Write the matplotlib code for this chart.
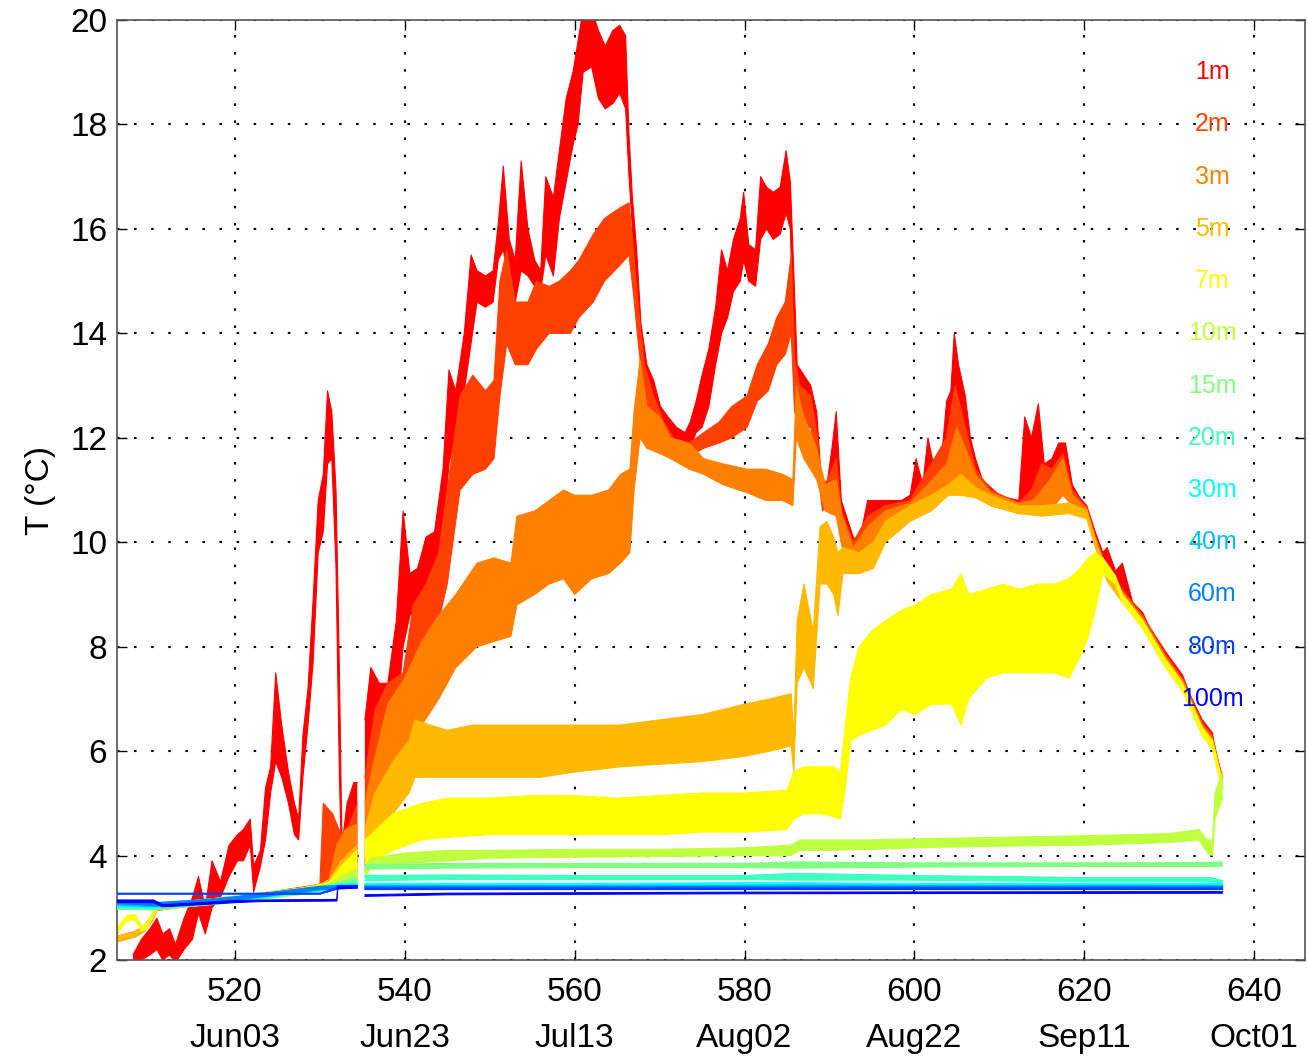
import numpy as np
import matplotlib
matplotlib.use("Agg")
import matplotlib.pyplot as plt

plt.rcParams['font.family'] = ['Liberation Sans', 'DejaVu Sans']

nan = np.nan

# Mooring temperature records: for each depth the daily low / high envelope (deg C)
depths = ["1m", "2m", "3m", "5m", "7m", "10m", "15m", "20m", "30m", "40m", "60m", "80m", "100m"]
colors = ["#ff0000", "#ff4000", "#ff8000", "#ffb900", "#ffff00", "#c0ff40", "#80ff80",
          "#40ffc0", "#00ffff", "#00bfff", "#0080ff", "#0040ff", "#0000ff"]

day_1m = [508.0, 509.0, 510.0, 510.8, 511.5, 512.3, 513.0, 514.0, 515.0, 515.7, 516.5, 517.3,
          518.3, 519.3, 520.3, 521.0, 521.8, 522.2, 523.0, 523.6, 524.2, 524.8, 525.5, 526.3,
          527.0, 527.5, 528.0, 528.6, 529.2, 529.8, 530.4, 530.9, 531.4, 531.9, 532.3, 532.6,
          533.2, 534.0, 534.4, nan,
          535.3, 536.0, 537.0, 538.0, 539.0, 539.8, 540.6, 541.5, 542.5, 543.5, 544.5, 545.2,
          546.0, 547.0, 547.8, 548.5, 549.5, 550.4, 551.0, 551.6, 552.3, 553.0, 553.7, 554.5,
          555.3, 556.0, 556.6, 557.5, 558.2, 559.0, 559.8, 560.4, 561.0, 562.0, 562.8, 563.6,
          564.5, 565.3, 566.0, 566.4, 566.8, 567.3, 567.8, 568.5, 569.3, 570.1, 571.0, 572.0,
          573.0, 573.6, 574.3, 575.0, 575.8, 576.6, 577.3, 578.0, 578.7, 579.5, 579.9, 580.5,
          581.3, 581.9, 582.6, 583.4, 584.2, 584.9, 585.4, 585.8, 586.2, 587.0, 587.8, 588.5,
          589.0, 589.7, 590.3, 590.8, 591.4, 592.0, 592.8, 593.5, 594.5, 595.5, 596.6, 597.5,
          598.5, 599.5, 600.2, 601.0, 601.6, 602.5, 603.2, 603.8, 604.3, 604.7, 605.2, 606.0,
          606.6, 607.2, 608.0, 609.0, 610.0, 611.0, 612.3, 613.0, 613.8, 614.6, 615.3, 616.2,
          617.0, 617.8, 618.6, 619.5, 620.3, 621.3, 622.2, 622.7, 623.7, 624.5, 625.7, 626.9,
          627.6, 629.6, 631.6, 632.4, 633.9, 635.1, 635.5, 636.3]
lo_1m = [1.9, 2.0, 2.1, 2.2, 2.0, 2.1, 1.95, 2.2, 2.4, 2.9, 2.5, 3.0,
         3.2, 3.6, 3.9, 3.9, 4.2, 3.3, 3.8, 4.3, 5.2, 5.8, 5.5, 5.0,
         4.4, 4.3, 5.5, 6.5, 7.7, 9.8, 10.2, 11.5, 11.6, 9.5, 5.5, 3.6,
         3.5, 3.8, 4.0, nan,
         3.8, 4.6, 5.0, 5.8, 6.5, 8.0, 8.6, 8.7, 9.2, 9.5, 10.2, 11.5,
         12.1, 12.9, 13.8, 14.6, 14.5, 14.6, 15.4, 15.6, 15.0, 14.6, 15.2, 15.1,
         14.9, 14.8, 15.5, 15.1, 16.2, 16.9, 17.6, 18.0, 19.0, 19.1, 18.5, 18.3,
         18.4, 18.6, 18.3, 17.0, 16.0, 14.6, 13.5, 12.9, 12.5, 12.3, 12.0, 11.9,
         11.8, 11.8, 12.1, 12.2, 12.6, 13.4, 14.0, 14.3, 14.8, 15.0, 15.4, 15.0,
         14.9, 15.8, 16.0, 15.8, 15.9, 16.3, 16.0, 13.8, 12.4, 12.5, 12.4, 11.8,
         10.9, 10.7, 11.1, 11.3, 10.3, 9.9, 9.5, 9.6, 10.0, 10.1, 10.4, 10.5,
         10.55, 10.6, 10.9, 10.7, 11.0, 10.8, 11.0, 11.6, 11.9, 12.5, 12.5, 12.0,
         11.4, 11.1, 10.9, 10.8, 10.7, 10.65, 10.6, 10.8, 11.0, 11.2, 10.9, 11.0,
         11.45, 11.4, 10.8, 10.65, 10.55, 10.0, 9.6, 9.4, 9.3, 9.0, 8.7, 8.5,
         8.25, 7.75, 7.3, 6.95, 6.45, 6.2, 5.8, 5.35]
hi_1m = [2.1, 2.4, 2.6, 2.8, 2.5, 2.6, 2.3, 2.8, 3.2, 3.6, 3.0, 3.9,
         3.5, 4.2, 4.4, 4.5, 4.7, 3.8, 4.1, 5.3, 5.7, 7.5, 6.5, 5.6,
         5.0, 4.7, 6.3, 7.2, 8.9, 10.8, 11.3, 12.9, 12.5, 11.0, 7.5, 4.2,
         5.0, 5.4, 5.4, nan,
         6.6, 7.6, 7.3, 7.3, 8.5, 10.6, 9.4, 9.5, 10.1, 10.2, 11.4, 13.3,
         12.9, 14.0, 15.5, 15.2, 15.1, 15.2, 16.1, 17.2, 15.8, 15.4, 17.3, 16.0,
         15.4, 15.2, 17.0, 16.6, 17.5, 18.5, 19.0, 19.6, 20.2, 20.2, 19.8, 19.5,
         19.8, 19.9, 19.7, 17.8, 16.6, 15.6, 14.2, 13.4, 13.1, 12.6, 12.4, 12.2,
         12.1, 12.3, 12.7, 13.2, 13.7, 14.5, 15.6, 15.2, 15.8, 16.2, 16.7, 15.7,
         15.6, 17.0, 16.8, 16.7, 16.8, 17.5, 16.9, 15.2, 13.4, 13.2, 13.0, 12.5,
         11.3, 11.1, 11.8, 12.5, 10.8, 10.5, 10.1, 10.0, 10.8, 10.8, 10.8, 10.8,
         10.8, 10.9, 11.6, 11.1, 12.0, 11.3, 11.6, 12.7, 12.9, 14.0, 13.4, 12.8,
         12.0, 11.6, 11.2, 11.05, 10.9, 10.85, 10.8, 12.4, 12.0, 12.65, 11.5, 11.6,
         11.9, 11.9, 11.1, 10.85, 10.7, 10.2, 9.8, 9.9, 9.45, 9.6, 8.85, 8.65,
         8.4, 7.9, 7.45, 7.1, 6.6, 6.35, 5.95, 5.5]

day_2m = [506.1, 507.2, 508.3, 509.3, 510.2, 510.8, 513.0, 516.0, 520.0, 524.0, 528.0, 530.0,
          530.4, 531.5, 532.5, 533.5, 534.4, nan,
          535.3, 536.5, 538.0, 539.8, 541.0, 542.5, 544.0, 545.0, 546.5, 548.0, 549.5, 550.5,
          551.2, 552.0, 553.0, 554.5, 555.5, 557.0, 558.2, 559.5, 560.5, 562.2, 563.5, 565.3,
          566.4, 566.9, 567.5, 568.2, 569.3, 570.5, 572.0, 573.5, 575.2, 577.0, 578.5, 580.3,
          581.5, 582.8, 583.8, 584.8, 585.5, 585.9, 586.5, 587.8, 588.5, 589.2, 590.3, 590.8,
          591.4, 592.8, 594.5, 596.6, 599.5, 601.6, 603.8, 604.8, 606.0, 607.2, 609.0, 612.3,
          613.8, 615.0, 616.2, 617.5, 618.6, 620.3, 621.3, 622.7, 624.5, 626.9, 629.6, 631.6,
          633.9, 635.1, 636.3]
lo_2m = [2.35, 2.4, 2.45, 2.55, 2.75, 2.95, 3.0, 3.05, 3.12, 3.2, 3.3, 3.35,
         3.5, 3.6, 3.5, 3.7, 3.9, nan,
         3.9, 4.6, 5.0, 6.0, 6.8, 7.5, 8.5, 9.2, 11.0, 11.3, 11.4, 11.6,
         12.8, 13.8, 13.4, 13.4, 13.7, 14.0, 14.0, 14.0, 14.3, 14.6, 15.0, 15.3,
         15.5, 14.8, 13.8, 12.8, 12.3, 12.0, 11.7, 11.65, 11.8, 11.9, 12.0, 12.2,
         12.7, 12.9, 13.4, 13.6, 14.0, 12.5, 12.2, 12.2, 11.5, 10.6, 10.8, 10.9,
         10.0, 9.5, 9.8, 10.3, 10.55, 10.8, 11.3, 11.6, 11.3, 11.0, 10.75, 10.55,
         10.6, 10.7, 10.8, 11.1, 10.75, 10.5, 9.95, 9.35, 8.95, 8.45, 7.7, 7.25,
         6.4, 6.15, 5.3]
hi_2m = [2.45, 2.5, 2.55, 2.65, 2.85, 3.05, 3.1, 3.15, 3.22, 3.3, 3.4, 3.45,
         5.0, 4.8, 4.4, 4.6, 5.0, nan,
         5.5, 6.8, 7.3, 7.5, 8.8, 9.2, 9.8, 11.0, 12.8, 13.2, 12.9, 13.1,
         15.0, 15.6, 14.6, 14.6, 15.0, 14.9, 15.0, 15.2, 15.4, 15.9, 16.2, 16.4,
         16.5, 15.6, 14.5, 13.4, 12.8, 12.3, 11.9, 11.9, 12.1, 12.3, 12.6, 12.8,
         13.4, 13.8, 14.3, 14.6, 15.5, 13.5, 13.0, 12.8, 12.1, 11.0, 11.4, 11.6,
         10.6, 10.0, 10.5, 10.7, 10.8, 11.4, 12.0, 13.0, 12.2, 11.4, 11.0, 10.75,
         11.0, 11.5, 11.4, 11.7, 11.0, 10.65, 10.1, 9.5, 9.1, 8.6, 7.85, 7.4,
         6.55, 6.3, 5.45]

day_3m = [506.1, 507.2, 508.3, 509.3, 510.2, 510.8, 513.0, 516.0, 520.0, 524.0, 528.0, 531.0,
          532.0, 533.0, 534.4, nan,
          535.3, 536.5, 538.0, 540.0, 542.0, 544.0, 546.0, 548.5, 550.5, 552.5, 553.2, 555.3,
          557.0, 558.7, 560.0, 562.0, 564.0, 565.4, 566.5, 567.0, 567.7, 568.5, 570.0, 571.3,
          573.5, 575.2, 577.5, 580.3, 582.5, 584.5, 585.7, 586.1, 587.0, 588.5, 589.5, 590.8,
          591.5, 592.8, 594.5, 596.6, 599.5, 601.6, 603.8, 605.0, 606.0, 607.2, 609.0, 612.3,
          614.0, 616.0, 617.5, 618.6, 620.3, 621.3, 622.7, 624.5, 626.9, 629.6, 631.6, 633.9,
          635.1, 636.3]
lo_3m = [2.35, 2.4, 2.45, 2.55, 2.75, 2.95, 3.0, 3.05, 3.12, 3.2, 3.28, 3.35,
         3.4, 3.5, 3.6, nan,
         3.7, 4.3, 5.0, 5.8, 6.5, 7.0, 7.6, 8.0, 8.1, 8.2, 8.8, 9.0,
         9.2, 9.3, 9.0, 9.3, 9.4, 9.6, 9.8, 11.0, 12.0, 11.8, 11.7, 11.6,
         11.4, 11.3, 11.1, 10.95, 10.8, 10.8, 10.7, 12.0, 11.6, 11.2, 10.6, 10.5,
         9.9, 9.4, 9.6, 10.2, 10.5, 10.7, 10.9, 11.0, 11.1, 11.0, 10.7, 10.55,
         10.55, 10.6, 10.9, 10.7, 10.5, 9.95, 9.3, 8.9, 8.4, 7.65, 7.2, 6.35,
         6.1, 5.3]
hi_3m = [2.45, 2.5, 2.55, 2.65, 2.85, 3.05, 3.1, 3.15, 3.22, 3.3, 3.38, 3.5,
         4.2, 4.5, 4.6, nan,
         5.0, 5.9, 6.9, 7.4, 8.1, 8.6, 9.0, 9.6, 9.7, 9.6, 10.5, 10.6,
         10.8, 11.0, 10.9, 10.9, 11.0, 11.3, 11.4, 12.5, 13.5, 12.6, 12.4, 12.0,
         11.9, 11.6, 11.5, 11.4, 11.4, 11.3, 11.2, 13.0, 12.4, 11.8, 11.1, 11.2,
         10.5, 9.9, 10.3, 10.6, 10.75, 11.1, 11.5, 12.2, 11.8, 11.3, 10.95, 10.75,
         10.8, 11.2, 11.6, 10.9, 10.65, 10.1, 9.45, 9.05, 8.55, 7.8, 7.35, 6.5,
         6.25, 5.45]

day_5m = [506.1, 507.2, 508.3, 509.3, 510.2, 510.8, 513.0, 516.0, 520.0, 524.0, 528.0, 531.0,
          532.5, 534.4, nan,
          535.3, 536.5, 538.6, 540.5, 541.2, 543.0, 545.0, 548.0, 552.0, 556.0, 560.0, 565.4,
          570.0, 575.0, 580.0, 583.0, 585.5, 585.8, 586.2, 587.0, 588.1, 588.9, 589.7, 590.5,
          591.0, 591.6, 593.5, 595.2, 596.6, 599.5, 602.0, 604.0, 605.5, 607.2, 609.0, 612.3,
          615.0, 618.2, 620.3, 621.3, 622.7, 624.5, 626.9, 629.6, 631.6, 633.9, 635.1, 636.3]
lo_5m = [2.35, 2.4, 2.45, 2.55, 2.75, 2.95, 3.0, 3.05, 3.12, 3.2, 3.28, 3.35,
         3.4, 3.5, nan,
         3.6, 4.2, 4.8, 5.2, 5.5, 5.5, 5.5, 5.5, 5.5, 5.5, 5.6, 5.7,
         5.75, 5.8, 5.9, 6.0, 6.1, 5.6, 7.3, 7.6, 7.2, 9.2, 9.2, 9.0,
         8.6, 9.4, 9.4, 9.5, 10.0, 10.4, 10.6, 10.9, 10.9, 10.85, 10.7, 10.55,
         10.5, 10.55, 10.45, 9.9, 9.25, 8.85, 8.35, 7.6, 7.15, 6.3, 6.05, 5.25]
hi_5m = [2.45, 2.5, 2.55, 2.65, 2.85, 3.05, 3.1, 3.15, 3.22, 3.3, 3.38, 3.5,
         3.9, 4.2, nan,
         4.5, 5.2, 5.8, 6.2, 6.6, 6.5, 6.4, 6.5, 6.5, 6.5, 6.5, 6.5,
         6.6, 6.7, 6.9, 7.0, 7.1, 6.3, 8.5, 9.2, 8.3, 10.3, 10.4, 10.1,
         9.8, 9.9, 9.8, 10.0, 10.4, 10.7, 10.9, 11.1, 11.3, 11.05, 10.9, 10.7,
         10.7, 10.75, 10.6, 10.05, 9.4, 9.0, 8.5, 7.75, 7.3, 6.45, 6.2, 5.4]

day_7m = [506.1, 506.5, 507.3, 508.2, 508.7, 509.0, 509.6, 510.4, 510.8, 513.0, 516.0, 520.0,
          524.0, 528.0, 531.0, 532.5, 534.4, nan,
          535.3, 536.0, 538.6, 542.0, 545.0, 550.0, 555.0, 560.0, 565.0, 570.0, 575.0, 580.0,
          585.0, 585.8, 587.0, 588.9, 590.5, 591.3, 591.8, 592.5, 593.5, 595.0, 596.6, 598.5,
          600.1, 602.0, 604.4, 605.5, 606.4, 608.5, 610.5, 612.3, 614.5, 616.5, 618.2, 619.5,
          620.5, 621.3, 622.2, 623.7, 624.5, 626.9, 629.6, 631.6, 633.9, 635.1, 636.3]
lo_7m = [2.45, 2.6, 2.75, 2.77, 2.65, 2.55, 2.6, 2.85, 2.97, 3.0, 3.05, 3.12,
         3.2, 3.28, 3.35, 3.4, 3.5, nan,
         3.6, 3.9, 4.1, 4.3, 4.35, 4.4, 4.4, 4.4, 4.4, 4.4, 4.45, 4.45,
         4.5, 4.7, 4.8, 4.8, 4.75, 4.7, 5.2, 6.2, 6.3, 6.4, 6.5, 6.8,
         6.7, 6.9, 6.9, 6.5, 7.0, 7.4, 7.5, 7.5, 7.5, 7.5, 7.4, 7.8,
         8.2, 8.7, 9.4, 9.2, 8.85, 8.35, 7.6, 7.15, 6.3, 6.05, 5.25]
hi_7m = [2.6, 2.7, 2.85, 2.87, 2.75, 2.65, 2.7, 2.95, 3.05, 3.1, 3.15, 3.22,
         3.3, 3.38, 3.48, 3.8, 4.1, nan,
         4.3, 4.4, 4.8, 5.0, 5.1, 5.1, 5.15, 5.15, 5.1, 5.15, 5.2, 5.2,
         5.25, 5.6, 5.7, 5.7, 5.7, 5.6, 6.4, 7.4, 8.0, 8.3, 8.5, 8.7,
         8.8, 9.0, 9.1, 9.4, 9.0, 9.1, 9.2, 9.1, 9.2, 9.2, 9.3, 9.5,
         9.7, 9.8, 9.7, 9.35, 9.0, 8.5, 7.75, 7.3, 6.45, 6.2, 5.4]

day_10m = [506.1, 508.0, 510.5, 513.0, 516.0, 520.0, 524.0, 528.0, 531.0, 532.5, 534.4, nan,
           535.3, 536.0, 540.0, 545.0, 550.0, 560.0, 570.0, 580.0, 585.5, 586.5, 590.0, 595.0,
           600.0, 610.0, 620.0, 630.0, 633.5, 634.5, 635.1, 635.4, 636.3]
lo_10m = [3.0, 2.97, 2.97, 3.0, 3.05, 3.12, 3.2, 3.28, 3.35, 3.4, 3.45, nan,
          3.6, 3.75, 3.85, 3.9, 3.95, 3.97, 3.98, 4.0, 4.0, 4.1, 4.1, 4.12,
          4.15, 4.18, 4.2, 4.25, 4.3, 4.05, 4.0, 4.7, 5.1]
hi_10m = [3.1, 3.07, 3.07, 3.1, 3.15, 3.22, 3.3, 3.38, 3.45, 3.6, 3.75, nan,
          3.8, 3.95, 4.05, 4.1, 4.1, 4.12, 4.12, 4.15, 4.2, 4.3, 4.3, 4.3,
          4.32, 4.35, 4.38, 4.42, 4.5, 4.3, 4.3, 5.2, 5.6]

day_deep = [506.1, 510.5, 515.0, 520.0, 525.0, 530.0, 532.5, 534.4, nan,
            535.3, 545.0, 560.0, 580.0, 586.0, 600.0, 620.0, 635.0, 636.3]
lo_15m = [2.97, 2.96, 3.03, 3.1, 3.2, 3.3, 3.38, 3.45, nan,
          3.74, 3.76, 3.77, 3.77, 3.76, 3.78, 3.79, 3.79, 3.8]
hi_15m = [3.05, 3.04, 3.1, 3.18, 3.28, 3.4, 3.5, 3.6, nan,
          3.83, 3.85, 3.85, 3.85, 3.88, 3.86, 3.86, 3.87, 3.88]
lo_20m = [2.99, 2.98, 3.04, 3.12, 3.22, 3.32, 3.38, 3.42, nan,
          3.52, 3.54, 3.54, 3.54, 3.53, 3.53, 3.5, 3.5, 3.42]
hi_20m = [3.07, 3.06, 3.12, 3.2, 3.3, 3.4, 3.46, 3.5, nan,
          3.62, 3.63, 3.62, 3.62, 3.66, 3.62, 3.58, 3.58, 3.52]
lo_30m = [3.02, 3.0, 3.06, 3.13, 3.23, 3.33, 3.38, 3.4, nan,
          3.42, 3.42, 3.43, 3.43, 3.43, 3.43, 3.43, 3.43, 3.42]
hi_30m = [3.1, 3.08, 3.13, 3.2, 3.3, 3.4, 3.44, 3.46, nan,
          3.47, 3.47, 3.47, 3.48, 3.48, 3.47, 3.47, 3.47, 3.47]
lo_40m = [3.05, 3.02, 3.07, 3.14, 3.24, 3.34, 3.38, 3.39, nan,
          3.39, 3.39, 3.4, 3.4, 3.4, 3.4, 3.4, 3.4, 3.4]
hi_40m = [3.12, 3.09, 3.14, 3.21, 3.31, 3.41, 3.43, 3.44, nan,
          3.43, 3.43, 3.43, 3.43, 3.44, 3.43, 3.43, 3.43, 3.43]
lo_60m = [3.08, 3.04, 3.08, 3.15, 3.25, 3.35, 3.38, 3.38, nan,
          3.37, 3.37, 3.38, 3.38, 3.38, 3.38, 3.38, 3.38, 3.38]
hi_60m = [3.14, 3.1, 3.14, 3.21, 3.31, 3.41, 3.42, 3.42, nan,
          3.41, 3.41, 3.41, 3.41, 3.41, 3.41, 3.41, 3.41, 3.41]
lo_80m = [3.26, 3.26, 3.26, 3.26, 3.26, 3.26, 3.38, 3.38, nan,
          3.35, 3.35, 3.35, 3.35, 3.35, 3.35, 3.35, 3.35, 3.35]
hi_80m = [3.28, 3.28, 3.28, 3.28, 3.28, 3.28, 3.42, 3.42, nan,
          3.38, 3.38, 3.38, 3.38, 3.38, 3.38, 3.38, 3.38, 3.38]

day_100m = [506.1, 510.4, 511.5, 516.0, 520.0, 523.0, 532.0, 532.1, 534.4, nan,
            535.3, 545.0, 580.0, 636.3]
lo_100m = [3.1, 3.1, 3.02, 3.06, 3.1, 3.12, 3.13, 3.36, 3.38, nan,
           3.22, 3.25, 3.27, 3.28]
hi_100m = [3.15, 3.15, 3.06, 3.1, 3.14, 3.15, 3.16, 3.42, 3.42, nan,
           3.25, 3.28, 3.30, 3.31]

series = [
    (day_1m, lo_1m, hi_1m), (day_2m, lo_2m, hi_2m), (day_3m, lo_3m, hi_3m),
    (day_5m, lo_5m, hi_5m), (day_7m, lo_7m, hi_7m), (day_10m, lo_10m, hi_10m),
    (day_deep, lo_15m, hi_15m), (day_deep, lo_20m, hi_20m), (day_deep, lo_30m, hi_30m),
    (day_deep, lo_40m, hi_40m), (day_deep, lo_60m, hi_60m), (day_deep, lo_80m, hi_80m),
    (day_100m, lo_100m, hi_100m),
]

tick_days = [520, 540, 560, 580, 600, 620, 640]
tick_dates = ["Jun03", "Jun23", "Jul13", "Aug02", "Aug22", "Sep11", "Oct01"]
label_day = 635.1
label_temps = [19, 18, 17, 16, 15, 14, 13, 12, 11, 10, 9, 8, 7]

fig = plt.figure(figsize=(13.08, 10.60), dpi=100)
ax = fig.add_axes([0.0894, 0.0943, 0.9083, 0.8868])

for k, ((d, lo, hi), col) in enumerate(zip(series, colors)):
    d = np.asarray(d, float)
    lo = np.asarray(lo, float)
    hi = np.asarray(hi, float)
    ax.fill_between(d, lo, hi, color=col, lw=0, zorder=2 + k * 0.1)
    ax.plot(d, lo, color=col, lw=0.8, zorder=2 + k * 0.1)
    ax.plot(d, hi, color=col, lw=0.8, zorder=2 + k * 0.1)

for name, col, t in zip(depths, colors, label_temps):
    ax.text(label_day, t, name, color=col, fontsize=18, ha='center', va='center', zorder=5)

ax.set_xlim(506.1, 646.0)
ax.set_ylim(2, 20)
ax.set_yticks(range(2, 21, 2))
ax.set_xticks(tick_days)
ax.set_xticklabels([f"{d}\n{s}" for d, s in zip(tick_days, tick_dates)], linespacing=1.65)
ax.tick_params(direction='in', top=True, right=True, length=7, width=1,
               labelsize=24, colors='#000000')
ax.tick_params(axis='x', pad=12)
ax.tick_params(axis='y', pad=7)
ax.set_ylabel("T (°C)", fontsize=24, labelpad=10)
ax.grid(True, color='black', linestyle=(0, (1.2, 7)), linewidth=1.5, zorder=1)
ax.set_axisbelow(True)
for sp in ax.spines.values():
    sp.set_color('#555555')
    sp.set_linewidth(1.2)

fig.savefig("out.png", dpi=100)
